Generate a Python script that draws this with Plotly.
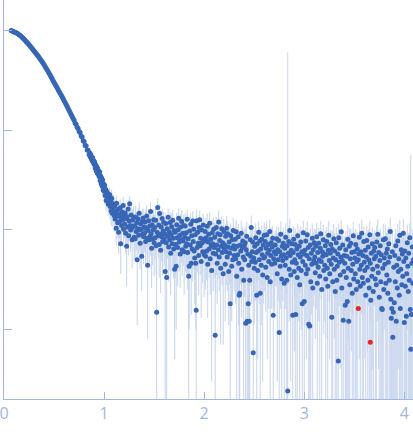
import plotly.graph_objects as go

# scattering curve: momentum transfer q, intensity (I(0) ~ 1000, arbitrary units), sigma

# low q, smooth Guinier part, step 0.01
q_low = [
    0.07, 0.08, 0.09, 0.10, 0.11, 0.12, 0.13, 0.14, 0.15, 0.16,
    0.17, 0.18, 0.19, 0.20, 0.21, 0.22, 0.23, 0.24, 0.25, 0.26,
    0.27, 0.28, 0.29, 0.30, 0.31, 0.32, 0.33, 0.34, 0.35, 0.36,
    0.37, 0.38, 0.39, 0.40, 0.41, 0.42, 0.43, 0.44, 0.45, 0.46,
    0.47, 0.48, 0.49, 0.50, 0.51, 0.52, 0.53, 0.54, 0.55, 0.56,
    0.57, 0.58, 0.59, 0.60, 0.61, 0.62, 0.63, 0.64, 0.65, 0.66,
    0.67, 0.68, 0.69, 0.70, 0.71, 0.72, 0.73, 0.74, 0.75, 0.76,
    0.77, 0.78, 0.79, 0.80, 0.81, 0.82, 0.83, 0.84, 0.85,
]
i_low = [
    1000, 988.6, 975.0, 966.1, 957.2, 946.2, 933.3, 918.3, 903.6, 887.2,
    871.0, 853.1, 831.8, 812.8, 794.3, 774.5, 755.1, 736.2, 716.1, 696.6,
    677.6, 657.7, 638.3, 620.9, 603.9, 586.1, 568.9, 552.1, 534.6, 517.6,
    501.2, 484.2, 467.7, 450.8, 434.5, 417.8, 401.8, 386.4, 370.7, 355.6,
    341.2, 326.6, 312.6, 299.9, 287.7, 276.1, 264.9, 254.1, 243.8, 233.9,
    224.4, 215.3, 206.5, 197.2, 188.4, 179.9, 171.8, 164.1, 156.7, 149.6,
    142.9, 136.5, 130.3, 125.5, 117.0, 114.1, 106.4, 103.8, 96.5, 94.6,
    87.0, 85.2, 78.2, 76.8, 70.1, 69.4, 63.0, 62.8, 56.9,
]
err_low = [
    3.0, 2.9, 2.9, 2.8, 2.7, 2.7, 2.6, 2.5, 2.5, 2.4,
    2.3, 2.3, 2.2, 2.1, 2.1, 2.0, 2.0, 1.9, 1.9, 1.8,
    1.8, 1.7, 1.7, 1.6, 1.6, 1.6, 1.5, 1.5, 1.5, 1.4,
    1.4, 1.4, 1.4, 1.3, 1.3, 1.3, 1.3, 1.3, 1.3, 1.3,
    1.3, 1.3, 1.3, 1.3, 1.3, 1.3, 1.4, 1.4, 1.4, 1.4,
    1.4, 1.5, 1.5, 1.5, 1.5, 1.6, 1.6, 1.6, 1.6, 1.7,
    1.7, 1.7, 1.8, 1.8, 1.8, 1.9, 1.9, 1.9, 2.0, 2.0,
    2.0, 2.1, 2.1, 2.1, 2.2, 2.2, 2.2, 2.3, 2.3,
]

# higher q, noisy part, step 0.005
q_high = [
    0.855, 0.860, 0.865, 0.870, 0.875, 0.880, 0.885, 0.890, 0.895, 0.900,
    0.905, 0.910, 0.915, 0.920, 0.925, 0.930, 0.935, 0.940, 0.945, 0.950,
    0.955, 0.960, 0.965, 0.970, 0.975, 0.980, 0.985, 0.990, 0.995, 1.000,
    1.005, 1.010, 1.015, 1.020, 1.025, 1.030, 1.035, 1.040, 1.045, 1.050,
    1.055, 1.060, 1.065, 1.070, 1.075, 1.080, 1.085, 1.090, 1.095, 1.100,
    1.105, 1.110, 1.115, 1.120, 1.125, 1.130, 1.135, 1.140, 1.145, 1.150, 1.155, 1.160, 1.165, 1.170, 1.175, 1.180, 1.185, 1.190, 1.195, 1.200,
    1.205, 1.210, 1.215, 1.220, 1.225, 1.230, 1.235, 1.240, 1.245, 1.250, 1.255, 1.260, 1.265, 1.270, 1.275, 1.280, 1.285, 1.290, 1.295, 1.300,
    1.305, 1.310, 1.315, 1.320, 1.325, 1.330, 1.335, 1.340, 1.345, 1.350, 1.355, 1.360, 1.365, 1.370, 1.375, 1.380, 1.385, 1.390, 1.395, 1.400,
    1.405, 1.410, 1.415, 1.420, 1.425, 1.430, 1.435, 1.440, 1.445, 1.450, 1.455, 1.460, 1.465, 1.470, 1.475, 1.480, 1.485, 1.490, 1.495, 1.500,
    1.505, 1.510, 1.515, 1.520, 1.525, 1.530, 1.535, 1.540, 1.545, 1.550, 1.555, 1.560, 1.565, 1.570, 1.575, 1.580, 1.585, 1.590, 1.595, 1.600,
    1.605, 1.610, 1.615, 1.620, 1.625, 1.630, 1.635, 1.640, 1.645, 1.650, 1.655, 1.660, 1.665, 1.670, 1.675, 1.680, 1.685, 1.690, 1.695, 1.700,
    1.705, 1.710, 1.715, 1.720, 1.725, 1.730, 1.735, 1.740, 1.745, 1.750, 1.755, 1.760, 1.765, 1.770, 1.775, 1.780, 1.785, 1.790, 1.795, 1.800,
    1.805, 1.810, 1.815, 1.820, 1.825, 1.830, 1.835, 1.840, 1.845, 1.850, 1.855, 1.860, 1.865, 1.870, 1.875, 1.880, 1.885, 1.890, 1.895, 1.900,
    1.905, 1.910, 1.915, 1.920, 1.925, 1.930, 1.935, 1.940, 1.945, 1.950, 1.955, 1.960, 1.965, 1.970, 1.975, 1.980, 1.985, 1.990, 1.995, 2.000,
    2.005, 2.010, 2.015, 2.020, 2.025, 2.030, 2.035, 2.040, 2.045, 2.050, 2.055, 2.060, 2.065, 2.070, 2.075, 2.080, 2.085, 2.090, 2.095, 2.100,
    2.105, 2.110, 2.115, 2.120, 2.125, 2.130, 2.135, 2.140, 2.145, 2.150, 2.155, 2.160, 2.165, 2.170, 2.175, 2.180, 2.185, 2.190, 2.195, 2.200,
    2.205, 2.210, 2.215, 2.220, 2.225, 2.230, 2.235, 2.240, 2.245, 2.250, 2.255, 2.260, 2.265, 2.270, 2.275, 2.280, 2.285, 2.290, 2.295, 2.300,
    2.305, 2.310, 2.315, 2.320, 2.325, 2.330, 2.335, 2.340, 2.345, 2.350, 2.355, 2.360, 2.365, 2.370, 2.375, 2.380, 2.385, 2.390, 2.395, 2.400,
    2.405, 2.410, 2.415, 2.420, 2.425, 2.430, 2.435, 2.440, 2.445, 2.450, 2.455, 2.460, 2.465, 2.470, 2.475, 2.480, 2.485, 2.490, 2.495, 2.500,
    2.505, 2.510, 2.515, 2.520, 2.525, 2.530, 2.535, 2.540, 2.545, 2.550, 2.555, 2.560, 2.565, 2.570, 2.575, 2.580, 2.585, 2.590, 2.595, 2.600,
    2.605, 2.610, 2.615, 2.620, 2.625, 2.630, 2.635, 2.640, 2.645, 2.650, 2.655, 2.660, 2.665, 2.670, 2.675, 2.680, 2.685, 2.690, 2.695, 2.700,
    2.705, 2.710, 2.715, 2.720, 2.725, 2.730, 2.735, 2.740, 2.745, 2.750, 2.755, 2.760, 2.765, 2.770, 2.775, 2.780, 2.785, 2.790, 2.795, 2.800,
    2.805, 2.810, 2.815, 2.820, 2.825, 2.830, 2.835, 2.840, 2.845, 2.850, 2.855, 2.860, 2.865, 2.870, 2.875, 2.880, 2.885, 2.890, 2.895, 2.900,
    2.905, 2.910, 2.915, 2.920, 2.925, 2.930, 2.935, 2.940, 2.945, 2.950, 2.955, 2.960, 2.965, 2.970, 2.975, 2.980, 2.985, 2.990, 2.995, 3.000,
    3.005, 3.010, 3.015, 3.020, 3.025, 3.030, 3.035, 3.040, 3.045, 3.050, 3.055, 3.060, 3.065, 3.070, 3.075, 3.080, 3.085, 3.090, 3.095, 3.100,
    3.105, 3.110, 3.115, 3.120, 3.125, 3.130, 3.135, 3.140, 3.145, 3.150, 3.155, 3.160, 3.165, 3.170, 3.175, 3.180, 3.185, 3.190, 3.195, 3.200,
    3.205, 3.210, 3.215, 3.220, 3.225, 3.230, 3.235, 3.240, 3.245, 3.250, 3.255, 3.260, 3.265, 3.270, 3.275, 3.280, 3.285, 3.290, 3.295, 3.300,
    3.305, 3.310, 3.315, 3.320, 3.325, 3.330, 3.335, 3.340, 3.345, 3.350, 3.355, 3.360, 3.365, 3.370, 3.375, 3.380, 3.385, 3.390, 3.395, 3.400,
    3.405, 3.410, 3.415, 3.420, 3.425, 3.430, 3.435, 3.440, 3.445, 3.450, 3.455, 3.460, 3.465, 3.470, 3.475, 3.480, 3.485, 3.490, 3.495, 3.500,
    3.505, 3.510, 3.515, 3.520, 3.525, 3.530, 3.535, 3.540, 3.545, 3.550, 3.555, 3.560, 3.565, 3.570, 3.575, 3.580, 3.585, 3.590, 3.595, 3.600,
    3.605, 3.610, 3.615, 3.620, 3.625, 3.630, 3.635, 3.640, 3.645, 3.650, 3.655, 3.660, 3.665, 3.670, 3.675, 3.680, 3.685, 3.690, 3.695, 3.700,
    3.705, 3.710, 3.715, 3.720, 3.725, 3.730, 3.735, 3.740, 3.745, 3.750, 3.755, 3.760, 3.765, 3.770, 3.775, 3.780, 3.785, 3.790, 3.795, 3.800,
    3.805, 3.810, 3.815, 3.820, 3.825, 3.830, 3.835, 3.840, 3.845, 3.850, 3.855, 3.860, 3.865, 3.870, 3.875, 3.880, 3.885, 3.890, 3.895, 3.900,
    3.905, 3.910, 3.915, 3.920, 3.925, 3.930, 3.935, 3.940, 3.945, 3.950, 3.955, 3.960, 3.965, 3.970, 3.975, 3.980, 3.985, 3.990, 3.995, 4.000,
    4.005, 4.010, 4.015, 4.020, 4.025, 4.030, 4.035, 4.040, 4.045, 4.050, 4.055, 4.060, 4.065, 4.070, 4.075, 4.080, 4.085, 4.090,
]
i_high = [
    58.9, 54.2, 57.1, 51.8, 54.0, 49.3, 52.6, 47.4, 49.5, 45.3,
    47.8, 41.6, 44.9, 38.9, 43.1, 37.2, 41.0, 35.9, 38.8, 34.1,
    38.0, 31.2, 34.6, 28.9, 33.0, 27.4, 31.5, 25.1, 28.7, 24.3,
    27.9, 22.0, 25.3, 19.6, 24.1, 20.8, 23.2, 18.1, 21.7, 19.0,
    22.4, 17.1, 19.8, 15.4, 20.6, 14.6, 18.3, 16.2, 17.5, 13.9,
    17.2, 12.8, 15.1, 10.3, 18.4, 13.6, 11.7, 15.9, 9.4, 14.2, 12.1, 16.6, 7.2, 13.3, 11.0, 15.0, 12.6, 17.5, 10.1, 13.9,
    11.4, 14.7, 9.2, 12.9, 6.8, 13.5, 10.6, 16.1, 8.7, 12.2, 18.2, 11.0, 9.9, 14.0, 10.3, 7.9, 12.5, 10.9, 13.2, 8.4,
    10.8, 8.1, 13.4, 9.6, 11.7, 5.0, 10.2, 12.8, 8.8, 14.6, 9.9, 7.3, 11.4, 10.1, 5.4, 12.0, 9.0, 13.1, 8.5, 10.6,
    9.3, 11.9, 7.6, 10.4, 13.7, 8.2, 4.4, 9.8, 12.3, 7.9, 10.9, 8.6, 15.2, 9.1, 6.5, 11.2, 8.0, 10.0, 12.6, 7.4,
    10.5, 8.3, 12.4, 6.9, 1.48, 9.4, 16.7, 8.7, 11.1, 7.1, 14.5, 9.0, 6.2, 10.6, 8.5, 12.9, 7.6, 9.7, 11.8, 8.1,
    9.1, 3.8, 11.5, 7.4, 3.3, 10.2, 8.6, 13.3, 6.7, 9.5, 7.9, 11.8, 5.8, 8.9, 10.7, 7.2, 12.4, 8.2, 6.4, 9.8,
    4.0, 9.4, 7.1, 4.3, 11.2, 8.3, 6.6, 10.0, 13.0, 7.5, 8.8, 5.7, 10.6, 7.9, 12.1, 6.3, 9.2, 7.7, 11.0, 6.0,
    8.4, 10.9, 6.8, 9.3, 7.2, 12.7, 5.9, 8.1, 3.4, 4.3, 9.7, 7.0, 11.3, 4.6, 8.7, 6.4, 12.2, 7.6, 10.1, 6.1,
    5.2, 8.9, 4.6, 1.55, 12.3, 6.6, 9.4, 7.3, 5.5, 10.5, 12.6, 6.9, 8.2, 4.8, 9.9, 7.4, 6.0, 11.1, 8.0, 5.6,
    7.7, 9.6, 5.4, 8.3, 6.1, 10.8, 4.5, 7.5, 9.0, 6.4, 11.6, 5.1, 8.0, 6.9, 3.9, 9.3, 7.2, 5.8, 10.1, 6.6,
    8.4, 0.87, 5.7, 10.5, 7.0, 4.6, 9.1, 6.3, 11.9, 5.3, 7.8, 8.9, 4.1, 6.8, 10.2, 5.9, 7.4, 3.6, 9.6, 6.5,
    7.0, 4.5, 8.6, 6.0, 10.3, 5.3, 9.1, 6.7, 3.8, 7.5, 5.8, 1.8, 8.7, 6.5, 4.3, 7.9, 5.0, 9.8, 6.9, 5.5,
    6.4, 8.0, 5.1, 9.5, 3.4, 6.8, 5.6, 8.5, 4.6, 2.2, 2.3, 7.0, 6.1, 9.2, 4.0, 6.6, 7.7, 5.3, 3.1, 6.9,
    5.0, 7.4, 1.15, 6.3, 8.6, 1.2, 5.7, 1.8, 4.4, 1.2, 3.1, 7.9, 5.4, 10.5, 4.8, 6.0, 7.5, 0.58, 5.2, 4.1,
    6.8, 4.7, 8.3, 5.9, 2.2, 7.2, 3.9, 6.1, 9.4, 5.0, 7.7, 2.3, 6.4, 4.4, 8.0, 5.6, 3.5, 7.0, 5.2, 8.8,
    5.3, 7.6, 4.2, 6.5, 8.9, 3.3, 5.8, 7.1, 4.8, 6.2, 9.6, 3.0, 5.5, 7.4, 4.5, 6.7, 8.2, 1.38, 5.1, 6.0,
    4.6, 7.0, 5.7, 5.9, 8.1, 3.6, 6.3, 5.0, 7.8, 0.93, 6.0, 4.3, 9.0, 5.4, 3.2, 6.8, 4.9, 7.3, 5.6, 2.9,
    6.5, 4.4, 8.4, 5.2, 3.1, 6.9, 0.24, 5.8, 7.6, 4.0, 9.8, 5.5, 3.5, 6.2, 7.2, 4.7, 1.38, 5.9, 8.0, 3.8,
    5.0, 7.1, 1.41, 4.6, 6.4, 3.3, 8.7, 5.6, 4.1, 6.8, 2.8, 5.3, 7.5, 3.9, 6.0, 1.8, 4.8, 9.3, 5.7, 1.9,
    6.2, 4.4, 7.7, 3.6, 5.5, 8.9, 4.0, 6.6, 1.12, 5.1, 1.08, 7.0, 3.0, 5.8, 4.5, 8.2, 2.6, 6.3, 4.9, 7.4,
    5.3, 3.7, 6.8, 4.6, 8.5, 2.9, 5.9, 4.2, 7.3, 5.0, 3.4, 6.5, 9.1, 4.8, 2.5, 6.0, 5.4, 7.9, 3.9, 5.7,
    4.4, 6.9, 3.2, 5.6, 7.6, 4.1, 2.7, 6.2, 8.8, 4.9, 3.6, 5.8, 7.1, 4.5, 1.32, 6.4, 3.0, 5.2, 8.1, 4.0,
    6.1, 2.4, 5.0, 7.4, 3.1, 4.3, 5.7, 0.48, 8.3, 4.7, 6.5, 3.5, 5.3, 9.5, 2.6, 4.9, 7.0, 1.23, 3.8, 5.5,
    4.6, 1.74, 6.3, 3.3, 5.4, 1.9, 8.0, 4.1, 1.2, 6.8, 2.8, 5.1, 7.3, 3.9, 5.9, 2.3, 4.5, 8.7, 3.2, 6.0,
    5.2, 3.6, 7.1, 2.5, 4.8, 6.4, 3.0, 5.0, 5.7, 8.4, 4.0, 2.7, 6.0, 4.4, 9.2, 3.3, 5.5, 2.9, 7.6, 4.7,
    3.9, 6.2, 2.2, 5.3, 7.8, 4.2, 3.1, 6.7, 5.0, 2.6, 8.9, 4.6, 1.95, 5.8, 3.4, 7.2, 4.0, 2.4, 6.1, 5.1,
    6.6, 3.2, 5.4, 2.8, 7.5, 4.3, 9.0, 3.7, 5.9, 2.1, 4.9, 6.9, 3.0, 5.6, 1.62, 1.58, 4.1, 7.9, 2.5, 5.2,
    4.5, 8.1, 2.9, 5.8, 3.5, 6.4, 2.3, 4.7, 7.2, 3.1, 5.3, 9.6, 2.0, 1.29, 1.62, 6.0, 0.83, 1.48, 4.2, 1.85,
    5.5, 3.0, 6.9, 1.2, 4.4, 2.6, 7.7, 3.8, 5.1, 2.2, 8.8, 1.62, 4.0, 6.3, 2.8, 5.7, 3.4, 9.2, 4.8, 1.17,
    6.1, 2.7, 5.2, 1.35, 3.6, 7.4, 4.3, 2.4, 5.8, 3.1, 8.3, 1.58, 0.63, 1.41, 4.6, 6.7, 2.9, 5.0,
]
err_high = [
    2.1, 2.3, 2.0, 2.4, 2.2, 2.5, 2.3, 2.6, 2.4, 2.7,
    2.6, 2.9, 2.7, 3.0, 2.8, 3.2, 2.9, 3.3, 3.0, 3.4,
    3.1, 3.5, 3.3, 3.6, 3.2, 3.8, 3.4, 3.9, 3.6, 3.7,
    3.8, 4.1, 3.6, 4.2, 3.9, 4.4, 3.7, 4.3, 4.0, 4.5,
    4.1, 4.6, 4.0, 4.4, 4.7, 3.9, 4.5, 4.2, 4.8, 4.3,
    3.6, 3.2, 3.9, 3.4, 3.1, 3.8, 3.5, 3.0, 3.7, 3.3, 4.0, 3.4, 3.6, 3.1, 3.9, 3.5, 3.2, 3.8, 3.4, 3.6,
    3.3, 3.9, 3.5, 3.1, 4.1, 3.7, 3.4, 3.8, 3.2, 4.0, 3.6, 3.3, 3.9, 3.5, 3.0, 3.8, 3.6, 3.2, 4.0, 3.4,
    3.7, 3.2, 4.0, 3.5, 3.3, 3.9, 3.4, 3.8, 3.1, 4.2, 3.6, 3.3, 3.8, 3.5, 3.0, 3.9, 3.7, 3.2, 4.0, 3.6,
    3.4, 3.9, 3.2, 3.7, 4.1, 3.3, 3.6, 3.0, 3.8, 3.5, 4.0, 3.2, 3.7, 3.4, 3.9, 3.1, 3.6, 3.8, 3.3, 4.0,
    3.6, 3.2, 3.9, 3.4, 3.7, 3.1, 4.0, 3.5, 3.3, 3.8, 3.6, 3.0, 3.9, 3.4, 3.7, 3.2, 4.1, 3.5, 3.3, 3.8,
    3.4, 3.8, 3.1, 3.6, 3.3, 3.9, 3.5, 3.0, 3.7, 3.2, 4.0, 3.4, 3.6, 3.1, 3.8, 3.5, 3.3, 3.9, 3.2, 3.6,
    3.5, 3.1, 3.8, 3.3, 3.6, 3.0, 3.9, 3.4, 3.2, 3.7, 3.5, 3.1, 3.8, 3.3, 3.6, 2.9, 3.7, 3.4, 3.2, 3.8,
    3.2, 3.6, 3.0, 3.5, 3.8, 3.1, 3.4, 2.9, 3.7, 3.3, 3.6, 3.0, 3.5, 3.2, 3.8, 3.4, 3.1, 3.6, 3.3, 3.0,
    3.4, 3.0, 3.6, 3.2, 3.7, 2.9, 3.5, 3.1, 3.3, 3.6, 3.0, 3.4, 2.8, 3.5, 3.2, 3.7, 3.1, 3.3, 2.9, 3.5,
    3.1, 3.5, 2.9, 3.3, 3.0, 3.6, 3.2, 2.8, 3.4, 3.1, 3.5, 2.9, 3.3, 3.0, 3.6, 3.2, 2.8, 3.4, 3.1, 3.3,
    3.2, 2.9, 3.4, 3.0, 3.5, 2.8, 3.3, 3.1, 3.6, 2.9, 3.2, 3.0, 3.4, 2.8, 3.3, 3.1, 3.5, 2.9, 3.2, 3.0,
    3.0, 3.3, 2.8, 3.2, 3.5, 2.9, 3.1, 3.4, 2.7, 3.2, 3.0, 3.3, 2.9, 3.5, 3.1, 2.8, 3.2, 3.4, 2.9, 3.1,
    3.1, 2.8, 3.3, 3.0, 3.4, 2.7, 3.2, 2.9, 3.5, 3.0, 3.2, 2.8, 3.3, 3.1, 2.7, 3.4, 3.0, 3.2, 2.9, 3.1,
    2.9, 3.2, 2.8, 3.1, 3.4, 2.7, 3.0, 3.3, 2.8, 3.1, 2.9, 3.2, 2.7, 3.4, 3.0, 2.8, 3.1, 3.3, 2.9, 3.0,
    3.0, 2.8, 3.3, 2.9, 3.1, 2.7, 3.4, 3.0, 2.8, 3.2, 2.9, 3.1, 2.7, 3.3, 3.0, 2.8, 3.2, 2.9, 3.4, 3.0,
    2.9, 3.2, 2.7, 3.0, 3.3, 2.8, 3.1, 2.9, 3.2, 2.6, 3.0, 3.3, 2.8, 3.1, 2.9, 3.2, 2.7, 3.0, 3.4, 2.9,
    3.1, 2.8, 3.0, 3.2, 2.7, 3.3, 2.9, 3.1, 2.8, 3.0, 3.2, 2.7, 3.1, 2.9, 3.3, 2.8, 3.0, 3.2, 2.9, 3.1,
    3.0, 2.8, 3.2, 2.9, 3.1, 2.7, 600.0, 3.0, 3.3, 2.8, 3.1, 2.9, 3.2, 2.7, 3.0, 3.3, 2.9, 3.1, 2.8, 3.2,
    2.9, 3.2, 2.8, 3.1, 3.0, 3.3, 2.7, 3.1, 2.9, 3.2, 2.8, 3.0, 3.3, 2.9, 3.1, 2.7, 3.2, 3.0, 2.8, 3.1,
    3.0, 3.3, 2.8, 3.1, 2.9, 3.2, 3.0, 2.8, 3.3, 3.1, 2.9, 3.2, 3.0, 2.7, 3.1, 3.3, 2.9, 3.0, 3.2, 2.8,
    3.1, 2.9, 3.3, 3.0, 3.2, 2.8, 3.4, 3.0, 3.1, 2.9, 3.3, 3.0, 3.2, 2.8, 3.1, 3.4, 2.9, 3.2, 3.0, 3.1,
    3.2, 2.9, 3.4, 3.1, 3.0, 3.3, 2.9, 3.2, 3.5, 3.0, 3.1, 3.3, 2.9, 3.2, 3.0, 3.4, 3.1, 2.9, 3.3, 3.2,
    3.1, 3.4, 3.0, 3.2, 3.3, 2.9, 3.5, 3.1, 3.2, 3.0, 3.4, 3.1, 3.3, 2.9, 3.2, 3.5, 3.0, 3.2, 3.3, 3.1,
    3.3, 3.0, 3.4, 3.2, 3.1, 3.5, 3.0, 3.3, 3.2, 3.4, 3.1, 3.6, 3.0, 3.3, 3.2, 3.5, 3.1, 3.3, 3.0, 3.4,
    3.2, 3.5, 3.1, 3.3, 3.4, 3.0, 3.6, 3.2, 3.3, 3.1, 3.5, 3.2, 3.4, 3.0, 3.3, 3.6, 3.1, 3.4, 3.2, 3.3,
    3.4, 3.1, 3.5, 3.3, 3.2, 3.6, 3.1, 3.4, 3.3, 3.7, 3.2, 3.4, 3.0, 3.5, 3.3, 3.2, 3.6, 3.3, 3.1, 3.4,
    3.3, 3.6, 3.2, 3.4, 3.5, 3.1, 3.7, 3.3, 3.4, 3.2, 3.6, 3.3, 3.5, 3.1, 3.4, 3.7, 3.2, 3.5, 3.3, 3.4,
    3.5, 3.2, 3.6, 3.4, 3.3, 3.7, 3.2, 3.5, 3.4, 3.8, 3.3, 3.5, 3.1, 3.6, 3.4, 3.3, 3.7, 3.4, 3.2, 3.5,
    3.4, 3.7, 3.3, 3.5, 3.6, 3.2, 3.8, 3.4, 3.5, 3.3, 3.7, 3.4, 3.6, 3.2, 3.5, 3.8, 3.3, 3.6, 3.4, 3.5,
    3.6, 3.3, 3.7, 3.5, 3.4, 3.8, 3.3, 3.6, 3.5, 3.9, 3.4, 3.6, 55.0, 3.5, 3.7, 3.4, 3.8, 3.6,
]

# points flagged in red
q_flagged = [3.54, 3.66]
i_flagged = [1.62, 0.74]

x_tick_vals = [0, 1, 2, 3, 4]

assert len(q_low) == len(i_low) == len(err_low)
assert len(q_high) == len(i_high) == len(err_high)

q_all = q_low + q_high
i_all = i_low + i_high
err_all = err_low + err_high

axis_col = "#a3b6df"

fig = go.Figure()
fig.add_trace(go.Scatter(
    x=q_all, y=i_all, mode="markers",
    marker=dict(color="#3866b6", size=5),
    error_y=dict(type="data", array=err_all, visible=True,
                 color="#c6d4ec", thickness=1, width=0),
    hoverinfo="skip", showlegend=False,
))
fig.add_trace(go.Scatter(
    x=q_flagged, y=i_flagged, mode="markers",
    marker=dict(color="#e8261e", size=5),
    hoverinfo="skip", showlegend=False,
))

fig.update_layout(
    width=413, height=437,
    margin=dict(l=4, r=0, t=0, b=38),
    paper_bgcolor="white", plot_bgcolor="white",
    font=dict(family="Open Sans", color=axis_col),
)
fig.update_xaxes(
    range=[-0.001, 4.087], showgrid=False, zeroline=False, automargin=False,
    showline=True, linecolor=axis_col, linewidth=1,
    ticks="inside", ticklen=7, tickcolor=axis_col,
    tickmode="array", tickvals=x_tick_vals, ticklabeloverflow="allow",
    tickfont=dict(size=16, color=axis_col),
)
fig.update_yaxes(
    type="log", range=[-0.70, 3.305], showgrid=False, zeroline=False, automargin=False,
    showline=True, linecolor=axis_col, linewidth=1,
    ticks="inside", ticklen=8, tickcolor=axis_col, dtick=1,
    showticklabels=False,
)

# the page body has a default 8px margin; drop it so the figure sits at the window corner
fig.write_html("out.html", config={"displayModeBar": False},
               post_script="document.body.style.margin = '0';")
